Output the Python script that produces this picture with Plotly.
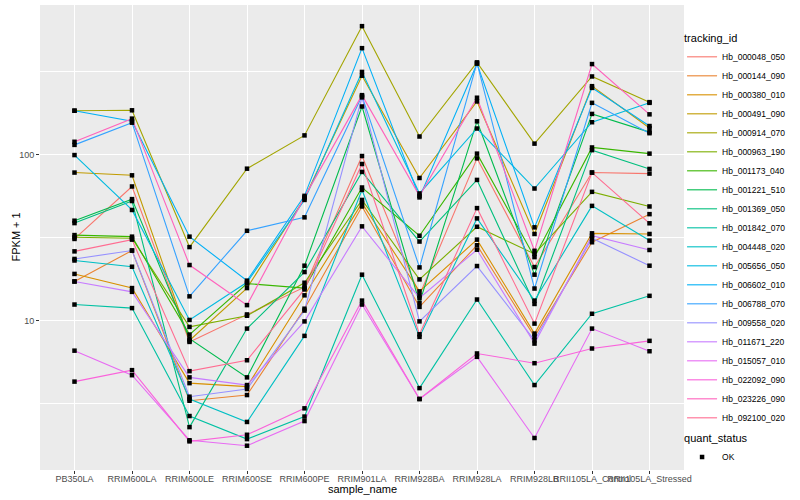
import plotly.graph_objects as go

samples = ["PB350LA", "RRIM600LA", "RRIM600LE", "RRIM600SE", "RRIM600PE",
           "RRIM901LA", "RRIM928BA", "RRIM928LA", "RRIM928LB",
           "RRII105LA_Control", "RRII105LA_Stressed"]

tracking_ids = ["Hb_000048_050", "Hb_000144_090", "Hb_000380_010", "Hb_000491_090",
                "Hb_000914_070", "Hb_000963_190", "Hb_001173_040", "Hb_001221_510",
                "Hb_001369_050", "Hb_001842_070", "Hb_004448_020", "Hb_005656_050",
                "Hb_006602_010", "Hb_006788_070", "Hb_009558_020", "Hb_011671_220",
                "Hb_015057_010", "Hb_022092_090", "Hb_023226_090", "Hb_092100_020"]

colors = ["#F8766D", "#EA8331", "#D89000", "#C09B00", "#A3A500", "#7CAE00", "#39B600",
          "#00BB4E", "#00BF7D", "#00C1A3", "#00BFC4", "#00BAE0", "#00B0F6", "#35A2FF",
          "#9590FF", "#C77CFF", "#E76BF3", "#FA62DB", "#FF62BC", "#FF6C91"]

# FPKM + 1 per sample (order of `samples`)
Hb_000048_050 = [31.0, 64.1, 7.45, 10.9, 15.9, 97.7, 14.2, 94.6, 21.0, 77.7, 76.6]
Hb_000144_090 = [17.2, 26.4, 3.3, 3.57, 11.8, 48.6, 12.1, 28.4, 8.02, 29.6, 43.7]
Hb_000380_010 = [19.1, 15.7, 4.21, 4.01, 14.2, 50.9, 15.0, 30.7, 8.36, 33.5, 33.2]
Hb_000491_090 = [77.7, 74.8, 7.6, 15.7, 54.5, 297, 72.1, 208, 33.2, 257, 144]
Hb_000914_070 = [183, 184, 27.7, 82, 130, 590, 128, 357, 116, 294, 206]
Hb_000963_190 = [31.7, 31.3, 9.17, 10.7, 16.9, 53.2, 17.7, 36.7, 25.2, 59.5, 48.6]
Hb_001173_040 = [32.7, 32.0, 8.25, 16.7, 15.7, 63.2, 32.4, 101, 24.1, 110, 101]
Hb_001221_510 = [39.9, 53.8, 7.8, 4.56, 21.4, 194, 12.8, 158, 18.9, 175, 136]
Hb_001369_050 = [38.6, 52.4, 2.29, 8.96, 19.6, 78.4, 29.9, 70.2, 12.6, 106, 81.7]
Hb_001842_070 = [12.5, 11.9, 2.67, 1.94, 2.65, 18.9, 3.93, 13.4, 4.10, 11.0, 14.1]
Hb_004448_020 = [23.0, 21.1, 3.38, 2.46, 8.1, 61.1, 7.99, 41.2, 13.2, 49.0, 30.3]
Hb_005656_050 = [99, 46.3, 10.1, 17.0, 53.2, 313, 58.2, 143, 62.3, 156, 204]
Hb_006602_010 = [183, 158, 32, 17.4, 56.3, 435, 55.1, 351, 36.4, 251, 148]
Hb_006788_070 = [114, 155, 14.0, 34.7, 41.8, 224, 20.9, 355, 15.6, 204, 134]
Hb_009558_020 = [23.5, 26.4, 3.49, 3.88, 11.5, 220, 9.9, 21.3, 7.62, 31.3, 21.4]
Hb_011671_220 = [17.2, 14.9, 4.56, 4.10, 9.9, 36.9, 13.7, 26.7, 7.28, 32.4, 26.6]
Hb_015057_010 = [6.6, 4.7, 1.91, 1.77, 2.49, 12.5, 3.38, 6.06, 1.97, 8.96, 6.55]
Hb_022092_090 = [4.3, 5.04, 1.88, 2.06, 2.97, 13.2, 3.38, 6.35, 5.55, 6.8, 7.56]
Hb_023226_090 = [119, 164, 21.6, 12.4, 55.3, 227, 56.3, 219, 26.3, 349, 174]
Hb_092100_020 = [26.1, 30.7, 4.97, 5.78, 15.4, 87.5, 8.28, 47.5, 9.6, 77.7, 38.5]

series = [Hb_000048_050, Hb_000144_090, Hb_000380_010, Hb_000491_090, Hb_000914_070,
          Hb_000963_190, Hb_001173_040, Hb_001221_510, Hb_001369_050, Hb_001842_070,
          Hb_004448_020, Hb_005656_050, Hb_006602_010, Hb_006788_070, Hb_009558_020,
          Hb_011671_220, Hb_015057_010, Hb_022092_090, Hb_023226_090, Hb_092100_020]

quant_status = "OK"

FONT = "Liberation Sans, Arial, sans-serif"

fig = go.Figure()
for name, col, vals in zip(tracking_ids, colors, series):
    fig.add_trace(go.Scatter(
        x=samples, y=vals, mode="lines", name=name,
        line=dict(color=col, width=1.1), legend="legend",
        hoverinfo="skip"))

all_x, all_y = [], []
for vals in series:
    all_x += samples
    all_y += vals
fig.add_trace(go.Scatter(
    x=all_x, y=all_y, mode="markers", name=quant_status,
    marker=dict(color="black", size=4.5, symbol="square"),
    legend="legend2"))

fig.update_layout(
    width=800, height=500,
    margin=dict(l=40, r=116, t=5, b=30),
    paper_bgcolor="white", plot_bgcolor="#EBEBEB",
    font=dict(family=FONT, size=9, color="#4D4D4D"),
    legend=dict(
        title=dict(text="tracking_id", font=dict(size=11, color="black")),
        x=0.997, xanchor="left", y=0.9505, yanchor="top",
        font=dict(size=8.5, color="black"), itemwidth=30,
        tracegroupgap=0, bgcolor="rgba(0,0,0,0)"),
    legend2=dict(
        title=dict(text="quant_status", font=dict(size=11, color="black")),
        x=0.997, xanchor="left", y=0.09, yanchor="top",
        font=dict(size=8.5, color="black"), itemwidth=30,
        bgcolor="rgba(0,0,0,0)"),
    annotations=[
        dict(text="sample_name", xref="paper", yref="paper", x=0.5, y=-0.041,
             xanchor="center", yanchor="middle", showarrow=False,
             font=dict(family=FONT, size=11, color="black")),
        dict(text="FPKM + 1", xref="paper", yref="paper", x=-0.0388, y=0.5,
             xanchor="center", yanchor="middle", showarrow=False, textangle=-90,
             font=dict(family=FONT, size=11, color="black")),
    ],
)

fig.update_xaxes(
    type="category", categoryorder="array", categoryarray=samples,
    range=[-0.6, len(samples) - 0.4],
    showgrid=True, gridcolor="white", gridwidth=1.1,
    ticks="outside", ticklen=3, tickcolor="#333333", tickwidth=1,
    tickangle=0, tickfont=dict(size=9, color="#4D4D4D"),
    ticklabelstandoff=-3,
    zeroline=False, showline=False)

fig.update_yaxes(
    type="log", range=[0.102, 2.898],
    tickvals=[10, 100], ticktext=["10", "100"],
    showgrid=True, gridcolor="white", gridwidth=1.1,
    minor=dict(tickvals=[3.1623, 31.623, 316.23], showgrid=True,
               gridcolor="white", gridwidth=0.55, ticks=""),
    ticks="outside", ticklen=3, tickcolor="#333333", tickwidth=1,
    tickfont=dict(size=9, color="#4D4D4D"),
    zeroline=False, showline=False)

fig.write_html("out.html", config={"displayModeBar": False},
               post_script="document.body.style.margin='0px';document.body.style.overflow='hidden';")
